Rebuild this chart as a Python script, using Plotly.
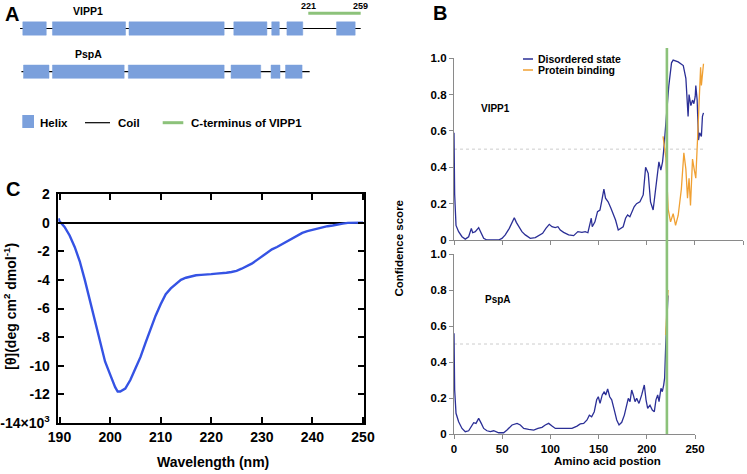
import plotly.graph_objects as go

W, H = 747, 474
FONT = "Liberation Sans"

# ---------------- Panel A data (residue numbers) ----------------
vipp1_coil = [12, 259]
vipp1_helix_start = [14, 35.5, 91, 167, 194.5, 205.5, 241.5]
vipp1_helix_end = [31, 88.5, 160, 191, 200, 217, 255]
pspa_coil = [13, 222]
pspa_helix_start = [14.5, 35.5, 90.5, 165, 194, 204.5]
pspa_helix_end = [33, 87.5, 160, 186.5, 200.5, 216.5]
cterm = [221, 259]

# ---------------- Panel B data ----------------
vipp1_pos = [0, 0.7, 2.1, 4.8, 8.3, 11.7, 15.2, 18, 19.4, 22.1, 25.6, 28.3, 30.8, 34.2, 46.3, 49.8, 53.2,
             57.4, 60.2, 62.6, 64.7, 67.1, 70.5, 74, 79.2, 84.4, 88.5, 92, 95.4, 98.9, 101.7, 105.1, 107.9,
             110.3, 113.8, 119, 124.2, 126.6, 128.6, 132.8, 136.2, 139, 141.5, 142.5, 143.5, 146.3, 149,
             151.5, 153.2, 155.6, 157.3, 160, 162.9, 165.3, 167.7, 170.5, 173.2, 175.6, 178.1, 180.2,
             182.6, 185, 187, 189.5, 193, 196.4, 198.9, 201.6, 204, 206.7, 209.2, 211.3, 212.7, 214.7,
             216.5, 217.8, 218.9, 220.6, 223, 225.8, 227.5, 232.7, 236, 238, 240.7, 242, 243, 244, 245.9,
             247.6, 249, 250.4, 251, 252.4, 253, 253.8, 255, 256.8, 257.9, 259]
vipp1_dis = [0.59, 0.25, 0.08, 0.046, 0.018, 0.005, 0.018, 0.064, 0.04, 0.046, 0.068, 0.037, 0.009, 0.0,
             0.0, 0.009, 0.028, 0.064, 0.10, 0.123, 0.097, 0.073, 0.046, 0.028, 0.009, 0.013, 0.024, 0.037,
             0.064, 0.086, 0.073, 0.068, 0.073, 0.055, 0.042, 0.028, 0.024, 0.037, 0.046, 0.042, 0.046,
             0.04, 0.11, 0.12, 0.073, 0.10, 0.156, 0.165, 0.21, 0.28, 0.23, 0.21, 0.175, 0.147, 0.11, 0.055,
             0.064, 0.073, 0.12, 0.138, 0.128, 0.165, 0.183, 0.20, 0.21, 0.248, 0.40, 0.367, 0.21, 0.165,
             0.266, 0.367, 0.43, 0.385, 0.43, 0.50, 0.57, 0.70, 0.85, 0.975, 0.99, 0.98, 0.97, 0.96, 0.89,
             0.79, 0.68, 0.80, 0.74, 0.77, 0.75, 0.79, 0.85, 0.77, 0.59, 0.55, 0.59, 0.57, 0.68, 0.70]
vipp1_bind_pos = [217, 218.5, 220, 222.3, 224.8, 227.5, 230, 232.7, 236, 238.6, 240.7, 242.4, 244, 245.5,
                  247.6, 249.3, 251, 252.8, 254.5, 256, 256.8, 258, 259]
vipp1_bind = [0.57, 0.52, 0.45, 0.17, 0.10, 0.145, 0.08, 0.135, 0.28, 0.48, 0.39, 0.23, 0.34, 0.19,
              0.445, 0.39, 0.34, 0.555, 0.74, 0.95, 0.85, 0.95, 0.97]

pspa_pos = [0, 0.7, 2.1, 4.8, 8.3, 11.7, 15.2, 18.7, 20.4, 22.8, 25.6, 28.3, 30.8, 34.2, 37.7, 41.2, 46.3,
            51.5, 55, 60.2, 65.4, 68.8, 72.3, 77.5, 82.7, 87.1, 91.3, 94.7, 98.2, 101.7, 105.1, 112, 122.4,
            127.6, 131, 134.5, 138, 140.4, 142.8, 145.5, 148, 149.7, 151.5, 153.8, 155.9, 157.4, 159.4,
            161.5, 163.6, 166.3, 168.8, 171.2, 174, 176.7, 179.1, 180.8, 182.6, 184.3, 186, 187.8, 189.5,
            191.9, 194.7, 197.4, 199.2, 200.9, 203.3, 205.7, 207.8, 209.5, 211.3, 212.7, 214.7, 216.1,
            217.5, 218.5, 219.6, 220.6, 222]
pspa_dis = [0.56, 0.244, 0.115, 0.068, 0.031, 0.013, 0.018, 0.05, 0.063, 0.059, 0.087, 0.059, 0.031, 0.018,
            0.013, 0.018, 0.007, 0.007, 0.022, 0.05, 0.059, 0.05, 0.031, 0.026, 0.022, 0.031, 0.037, 0.05,
            0.059, 0.044, 0.031, 0.031, 0.031, 0.044, 0.056, 0.059, 0.078, 0.105, 0.096, 0.124, 0.19, 0.207,
            0.17, 0.217, 0.235, 0.217, 0.25, 0.207, 0.19, 0.133, 0.078, 0.05, 0.065, 0.105, 0.152, 0.198,
            0.18, 0.244, 0.217, 0.18, 0.198, 0.17, 0.217, 0.272, 0.19, 0.143, 0.16, 0.133, 0.124, 0.19,
            0.217, 0.18, 0.254, 0.235, 0.272, 0.31, 0.49, 0.63, 0.77]
pspa_bind_pos = [219.5, 220.5, 221.5, 222]
pspa_bind = [0.55, 0.65, 0.75, 0.80]
threshold = 0.5

# ---------------- Panel C data ----------------
wavelength = [189.8, 190, 191, 192, 193, 194, 195, 196, 197, 198, 199, 200, 201, 201.5, 202, 203, 204, 205,
              206, 207, 208, 209, 210, 211, 212, 213, 214, 215, 216, 217, 218, 219, 220, 221, 222, 223, 224,
              225, 226, 227, 228, 229, 230, 231, 232, 233, 234, 235, 236, 237, 238, 239, 240, 241, 242, 243,
              244, 245, 246, 247, 248, 249, 250]
ellipticity = [0.3, 0.1, -0.3, -0.9, -1.7, -2.7, -4.0, -5.4, -6.9, -8.4, -9.7, -10.6, -11.5, -11.8, -11.8,
               -11.6, -11.0, -10.2, -9.4, -8.4, -7.4, -6.5, -5.7, -5.0, -4.6, -4.3, -4.0, -3.85, -3.75,
               -3.68, -3.65, -3.64, -3.6, -3.56, -3.55, -3.5, -3.45, -3.37, -3.22, -3.07, -2.87, -2.62,
               -2.37, -2.12, -1.87, -1.7, -1.5, -1.3, -1.1, -0.9, -0.72, -0.6, -0.5, -0.4, -0.32, -0.25,
               -0.2, -0.12, -0.07, -0.02, 0.0, 0.02, 0.0]

C_HELIX = "#7ba0dc"
C_GREEN = "#8cc27a"
C_NAVY = "#2b2f96"
C_ORANGE = "#f0a032"
C_CD = "#3553e4"
AX_GRAY = "#8a8a8a"


def px(x):
    return x / W


def py(y):
    return 1 - y / H


def helix_boxes(starts, ends, row, half=6.65):
    xs, ys = [], []
    for s, e in zip(starts, ends):
        xs += [s, e, e, s, s, None]
        ys += [row - half, row - half, row + half, row + half, row - half, None]
    return xs, ys


fig = go.Figure()

# ---------- Panel A ----------
ROW_V, ROW_P = 28.5, 71.7
for coil, row, hs, he in [(vipp1_coil, ROW_V, vipp1_helix_start, vipp1_helix_end),
                          (pspa_coil, ROW_P, pspa_helix_start, pspa_helix_end)]:
    fig.add_trace(go.Scatter(x=coil, y=[row, row], mode="lines", line=dict(color="black", width=1.2),
                             xaxis="x3", yaxis="y3", showlegend=False, hoverinfo="skip"))
    bx, by = helix_boxes(hs, he, row)
    fig.add_trace(go.Scatter(x=bx, y=by, mode="lines", fill="toself", fillcolor=C_HELIX,
                             line=dict(color=C_HELIX, width=0.5), xaxis="x3", yaxis="y3",
                             showlegend=False, hoverinfo="skip"))
fig.add_trace(go.Scatter(x=cterm, y=[13.3, 13.3], mode="lines", line=dict(color=C_GREEN, width=3),
                         xaxis="x3", yaxis="y3", showlegend=False, hoverinfo="skip"))

# ---------- Panel B ----------
fig.add_trace(go.Scatter(x=[0, vipp1_coil[1]], y=[threshold, threshold], mode="lines",
                         line=dict(color="#cccccc", width=1, dash="dot"), xaxis="x", yaxis="y",
                         showlegend=False, hoverinfo="skip"))
fig.add_trace(go.Scatter(x=[0, pspa_coil[1] - 5], y=[threshold, threshold], mode="lines",
                         line=dict(color="#cccccc", width=1, dash="dot"), xaxis="x2", yaxis="y2",
                         showlegend=False, hoverinfo="skip"))
fig.add_trace(go.Scatter(x=vipp1_pos, y=vipp1_dis, mode="lines", line=dict(color=C_NAVY, width=1.3),
                         xaxis="x", yaxis="y", name="Disordered state", showlegend=False))
fig.add_trace(go.Scatter(x=vipp1_bind_pos, y=vipp1_bind, mode="lines", line=dict(color=C_ORANGE, width=1.3),
                         xaxis="x", yaxis="y", name="Protein binding", showlegend=False))
fig.add_trace(go.Scatter(x=pspa_pos, y=pspa_dis, mode="lines", line=dict(color=C_NAVY, width=1.3),
                         xaxis="x2", yaxis="y2", showlegend=False))
fig.add_trace(go.Scatter(x=pspa_bind_pos, y=pspa_bind, mode="lines", line=dict(color=C_ORANGE, width=1.3),
                         xaxis="x2", yaxis="y2", showlegend=False))

# ---------- Panel C ----------
fig.add_trace(go.Scatter(x=wavelength, y=ellipticity, mode="lines", line=dict(color=C_CD, width=2.4),
                         xaxis="x4", yaxis="y4", showlegend=False))

tickfont_b = dict(family=FONT, size=11.5, color="black")
tickfont_c = dict(family=FONT, size=14, color="black")

yticks_b = [0, 0.2, 0.4, 0.6, 0.8, 1.0]
yticks_b_txt = ["<b>0</b>", "<b>0.2</b>", "<b>0.4</b>", "<b>0.6</b>", "<b>0.8</b>", "<b>1.0</b>"]

xticks_c = [190, 200, 210, 220, 230, 240, 250]
yticks_c = [2, 0, -2, -4, -6, -8, -10, -12, -14]
yticks_c_txt = ["<b>%d</b>" % v for v in yticks_c[:-1]] + ["<b>-14×10<sup>3</sup></b>"]

fig.update_layout(
    template="none",
    width=W, height=H, margin=dict(l=0, r=0, t=0, b=0, pad=0), autosize=False,
    paper_bgcolor="white", plot_bgcolor="white",
    font=dict(family=FONT, color="black"),
    # Panel B top
    xaxis=dict(domain=[px(454), px(743)], range=[0, 300], anchor="y", showgrid=False, zeroline=False,
               automargin=False,
               showline=True, linecolor=AX_GRAY, linewidth=1.2, ticks="outside", ticklen=4,
               tickcolor=AX_GRAY, tickvals=[0, 50, 100, 150, 200, 250, 300], showticklabels=False),
    yaxis=dict(domain=[py(240), py(58.3)], range=[0, 1.0], anchor="x", showgrid=False, zeroline=False,
               automargin=False,
               showline=True, linecolor=AX_GRAY, linewidth=1.2, ticks="outside", ticklen=4,
               tickcolor=AX_GRAY, tickvals=yticks_b, ticktext=yticks_b_txt, tickfont=tickfont_b),
    # Panel B bottom
    xaxis2=dict(domain=[px(454), px(695)], range=[0, 250], anchor="y2", showgrid=False, zeroline=False,
                automargin=False,
                showline=True, linecolor=AX_GRAY, linewidth=1.2, ticks="outside", ticklen=4,
                tickcolor=AX_GRAY, tickvals=[0, 50, 100, 150, 200, 250],
                ticktext=["<b>%d</b>" % v for v in [0, 50, 100, 150, 200, 250]], tickfont=tickfont_b),
    yaxis2=dict(domain=[py(434), py(254)], range=[0, 1.0], anchor="x2", showgrid=False, zeroline=False,
                automargin=False,
                showline=True, linecolor=AX_GRAY, linewidth=1.2, ticks="outside", ticklen=4,
                tickcolor=AX_GRAY, tickvals=yticks_b, ticktext=yticks_b_txt, tickfont=tickfont_b),
    # Panel A
    xaxis3=dict(domain=[0, px(380)], range=[-2.54, 273.0], anchor="y3", visible=False, automargin=False),
    yaxis3=dict(domain=[py(140), 1], range=[140, 0], anchor="x3", visible=False, automargin=False),
    # Panel C
    xaxis4=dict(domain=[px(58.3), px(364)], range=[189.76, 250.2], anchor="y4", showgrid=False,
                automargin=False,
                zeroline=False, showline=True, linecolor="black", linewidth=1.5, mirror="ticks",
                ticks="inside", ticklen=6, tickwidth=1.5, tickcolor="black", tickvals=xticks_c,
                ticktext=["<b>%d</b>" % v for v in xticks_c], tickfont=tickfont_c),
    yaxis4=dict(domain=[py(423), py(194)], range=[-14, 2], anchor="x4", showgrid=False,
                automargin=False,
                zeroline=True, zerolinecolor="black", zerolinewidth=1.5, showline=True,
                linecolor="black", linewidth=1.5, mirror="ticks", ticks="inside", ticklen=6,
                tickwidth=1.5, tickcolor="black", tickvals=yticks_c, ticktext=yticks_c_txt,
                tickfont=tickfont_c, ticklabelstandoff=4),
)

shapes = []
# green C-terminus marker across panel B
shapes.append(dict(type="line", xref="x", yref="paper", x0=cterm[0], x1=cterm[0],
                   y0=py(434), y1=py(48), line=dict(color=C_GREEN, width=2.6)))
# Panel A legend swatches
shapes.append(dict(type="rect", xref="paper", yref="paper", x0=px(22.3), x1=px(34), y0=py(128), y1=py(115),
                   fillcolor=C_HELIX, line=dict(width=0)))
shapes.append(dict(type="line", xref="paper", yref="paper", x0=px(85), x1=px(110), y0=py(122.7), y1=py(122.7),
                   line=dict(color="black", width=1.2)))
shapes.append(dict(type="line", xref="paper", yref="paper", x0=px(162.7), x1=px(183.3), y0=py(122.7),
                   y1=py(122.7), line=dict(color=C_GREEN, width=3)))
# Panel B legend swatches
shapes.append(dict(type="line", xref="paper", yref="paper", x0=px(523), x1=px(533), y0=py(59), y1=py(59),
                   line=dict(color=C_NAVY, width=1.5)))
shapes.append(dict(type="line", xref="paper", yref="paper", x0=px(523), x1=px(533), y0=py(70), y1=py(70),
                   line=dict(color=C_ORANGE, width=1.5)))
fig.update_layout(shapes=shapes)


def ann(text, x, y, size, xanchor="center", yanchor="middle", angle=0, bold=True):
    return dict(text=("<b>%s</b>" % text) if bold else text, x=px(x), y=py(y), xref="paper", yref="paper",
                showarrow=False, xanchor=xanchor, yanchor=yanchor, textangle=angle,
                font=dict(family=FONT, size=size, color="black"))


annotations = [
    ann("A", 3, 14, 20, xanchor="left"),
    ann("B", 431, 13, 20, xanchor="left"),
    ann("C", 4, 189, 20, xanchor="left"),
    ann("VIPP1", 88, 10.7, 10.5),
    ann("PspA", 88, 54.3, 10.5),
    ann("Helix", 38, 122.7, 11.5, xanchor="left"),
    ann("Coil", 116, 122.7, 11.5, xanchor="left"),
    ann("C-terminus of VIPP1", 188.7, 122.7, 11.5, xanchor="left"),
    ann("Disordered state", 536, 59, 10.5, xanchor="left"),
    ann("Protein binding", 536, 70, 10.5, xanchor="left"),
    ann("VIPP1", 495, 109, 10),
    ann("PspA", 498, 299, 10),
    ann("Confidence score", 398, 248.5, 11.5, angle=-90),
    ann("Amino acid postion", 607, 461, 11.5),
    ann("Wavelength (nm)", 212.7, 462, 14),
    ann("[θ](deg cm<sup>2</sup> dmol<sup>-1</sup>)", 10, 306.7, 14, angle=-90),
]
# residue labels above the C-terminus bar (data positions)
for r in cterm:
    annotations.append(dict(text="<b>%d</b>" % r, x=r, y=5.7, xref="x3", yref="y3", showarrow=False,
                            xanchor="center", yanchor="middle", font=dict(family=FONT, size=9, color="black")))
fig.update_layout(annotations=annotations)

fig.write_html("out.html", config={"displayModeBar": False},
               post_script="document.body.style.margin='0';document.body.style.overflow='hidden';")
